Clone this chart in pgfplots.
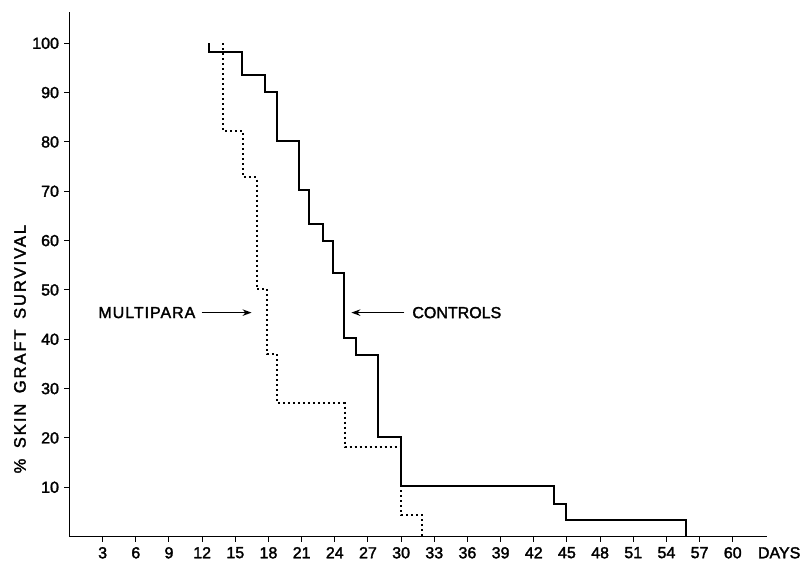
\documentclass[border=0pt]{standalone}
\usepackage{fontspec}
\setmainfont{Liberation Sans}[FakeBold=2]
\newfontfamily\labfont{Liberation Sans}[FakeBold=2,LetterSpace=6]
\newfontfamily\ylabfont{Liberation Sans}[FakeBold=2,LetterSpace=12,WordSpace=1.6]
\usepackage{pgfplots}
\pgfplotsset{compat=1.18}
\usetikzlibrary{arrows.meta}
\begin{document}
\fontsize{16}{19}\selectfont
\begin{tikzpicture}
\useasboundingbox (0pt,0pt) rectangle (806pt,568pt);
\begin{axis}[
  at={(69.5pt,31.4pt)}, anchor=south west,
  scale only axis, width=697.5pt, height=524.9pt,
  xmin=0, xmax=63.1, ymin=0, ymax=106.4,
  axis lines=left, axis line style={line width=1pt,-},
  xtick={3,6,...,60}, ytick={10,20,...,100},
  tick align=outside, major tick length=5pt,
  tick style={line width=1pt, black},
  ticklabel style={font=\fontsize{16}{19}\selectfont},
  /pgf/number format/assume math mode=true,
  clip=false,
]
% CONTROLS
\addplot[const plot, line width=2pt, black] coordinates {
 (12.6,100) (12.6,98.2) (15.6,93.5) (17.7,90.2) (18.8,80.2) (20.75,70.2)
 (21.65,63.3) (22.95,60) (23.85,53.4) (24.8,40.2) (25.95,36.8) (27.9,20.2)
 (30.0,10.2) (43.8,6.7) (44.95,3.3) (55.8,0)
};
% MULTIPARA
\addplot[const plot, line width=2pt, black, dash pattern=on 2pt off 3pt] coordinates {
 (13.9,100) (13.9,82.2) (15.7,72.8) (16.95,50.2) (17.9,37.0) (18.8,27.0)
 (24.9,18.2) (30.0,4.3) (31.9,0)
};
\draw[-{Stealth[length=9pt,width=6.5pt]}, line width=1.5pt] (axis cs:11.95,45.4) -- (axis cs:16.47,45.4);
\node[anchor=east, inner sep=0pt, font=\labfont\fontsize{16}{19}\selectfont] at (axis cs:11.4,45.4) {MULTIPARA};
\draw[-{Stealth[length=9pt,width=6.5pt]}, line width=1.5pt] (axis cs:30.3,45.4) -- (axis cs:25.5,45.4);
\node[anchor=west, inner sep=0pt, font=\fontsize{16}{19}\selectfont] at (axis cs:31.0,45.4) {CONTROLS};
\node[anchor=north, yshift=-5pt] at (axis cs:64.2,0) {DAYS};
\node[rotate=90, font=\ylabfont\fontsize{16.5}{19}\selectfont] at (axis cs:-4.48,38) {\% SKIN GRAFT SURVIVAL};
\end{axis}
\end{tikzpicture}
\end{document}
